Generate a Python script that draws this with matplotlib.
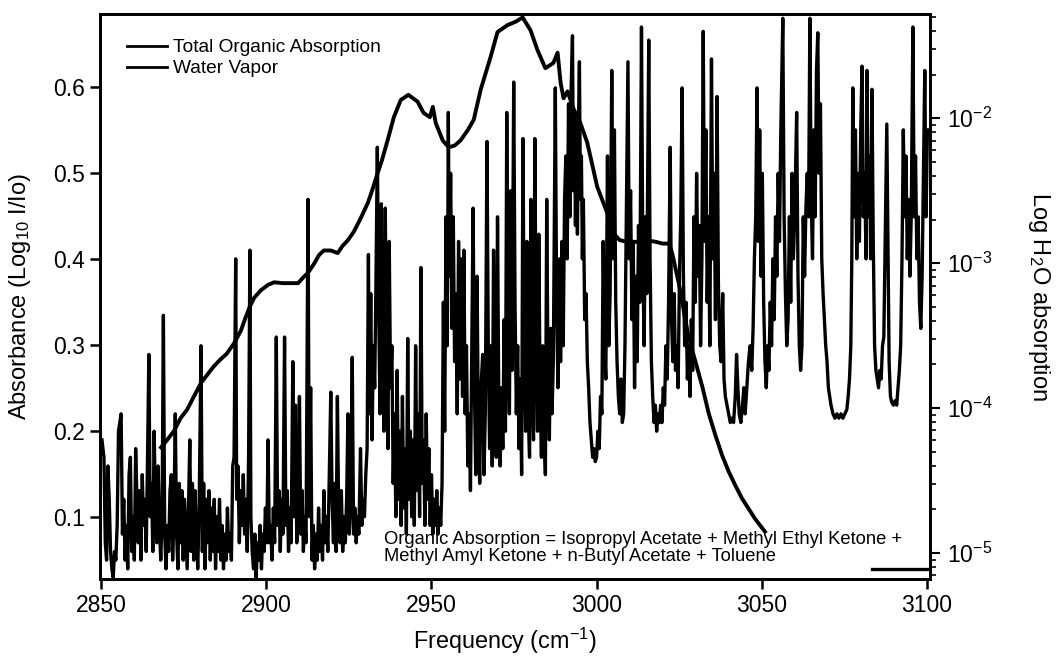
import matplotlib
matplotlib.use('Agg')
import numpy as np
import matplotlib.pyplot as plt
from matplotlib.lines import Line2D

plt.rcParams['font.family'] = ['Liberation Sans', 'DejaVu Sans']
plt.rcParams['mathtext.fontset'] = 'custom'
plt.rcParams['mathtext.rm'] = 'Liberation Sans'
plt.rcParams['mathtext.it'] = 'Liberation Sans:italic'
plt.rcParams['mathtext.bf'] = 'Liberation Sans:bold'

# total organic absorption (left axis, absorbance)
org_freq = [2868.1, 2870, 2872, 2874, 2876, 2878, 2880.2, 2882, 2884, 2886,
            2888, 2890.2, 2892.3, 2893.5, 2895, 2896.3, 2898.4, 2900.5, 2902.3, 2905,
            2907, 2909.6, 2911, 2912.6, 2914.5, 2916, 2917.4, 2919.5, 2921.6, 2923,
            2924.7, 2926.5, 2928.5, 2930.7, 2932.3, 2933.7, 2935, 2936.7, 2938.6, 2940.7,
            2943, 2945.8, 2947.6, 2949.5, 2950.4, 2951.3, 2953.4, 2955.2, 2957, 2958.8,
            2961, 2962.8, 2964.9, 2967.9, 2970, 2973, 2975.5, 2977.6, 2980, 2982.1,
            2984.5, 2986.9, 2988.2, 2989.1, 2990, 2991.2, 2993, 2995.1, 2997.2, 3000.2,
            3003.3, 3005.1, 3007, 3009.3, 3012, 3015, 3018, 3020, 3022, 3023,
            3025, 3027.8, 3030, 3032, 3034, 3036, 3038, 3040, 3042, 3044,
            3046, 3048, 3051]
org_abs = [0.181, 0.19, 0.20, 0.215, 0.225, 0.24, 0.256, 0.265, 0.275, 0.283,
           0.29, 0.302, 0.317, 0.33, 0.345, 0.355, 0.364, 0.37, 0.373, 0.372,
           0.372, 0.372, 0.378, 0.384, 0.395, 0.405, 0.41, 0.41, 0.407, 0.415,
           0.422, 0.432, 0.447, 0.465, 0.483, 0.50, 0.515, 0.538, 0.565, 0.585,
           0.591, 0.583, 0.57, 0.565, 0.577, 0.558, 0.538, 0.53, 0.532, 0.538,
           0.55, 0.562, 0.597, 0.635, 0.664, 0.672, 0.676, 0.681, 0.666, 0.643,
           0.622, 0.628, 0.64, 0.605, 0.587, 0.595, 0.575, 0.558, 0.535, 0.484,
           0.453, 0.43, 0.422, 0.42, 0.42, 0.422, 0.42, 0.418, 0.418, 0.405,
           0.37, 0.31, 0.28, 0.252, 0.22, 0.195, 0.172, 0.153, 0.137, 0.122,
           0.11, 0.098, 0.083]
tail_freq = [3083.5, 3101]
tail_abs = [0.040, 0.040]

# water vapor (right axis), log10 of absorption
h2o_freq = [
    2850.2, 2850.8, 2851.2, 2851.6, 2852.0, 2852.4, 2852.8, 2853.2, 2853.6, 2854.0,
    2854.4, 2854.8, 2855.2, 2855.6, 2856.0, 2856.4, 2856.8, 2857.2, 2857.6, 2858.0,
    2858.4, 2858.8, 2859.2, 2859.6, 2860.0, 2860.4, 2860.8, 2861.2, 2861.6, 2862.0,
    2862.4, 2862.8, 2863.2, 2863.6, 2864.0, 2864.4, 2864.8, 2865.2, 2865.6, 2866.0,
    2866.4, 2866.8, 2867.2, 2867.6, 2868.0, 2868.4, 2868.8, 2869.2, 2869.6, 2870.0,
    2870.4, 2870.8, 2871.2, 2871.6, 2872.0, 2872.4, 2872.8, 2873.2, 2873.6, 2874.0,
    2874.4, 2874.8, 2875.2, 2875.6, 2876.0, 2876.4, 2876.8, 2877.2, 2877.6, 2878.0,
    2878.4, 2878.8, 2879.2, 2879.6, 2880.2, 2880.6, 2881.0, 2881.4, 2881.8, 2882.2,
    2882.6, 2883.0, 2883.4, 2883.8, 2884.2, 2884.6, 2885.0, 2885.4, 2885.8, 2886.2,
    2886.6, 2887.0, 2887.4, 2887.8, 2888.2, 2888.6, 2889.0, 2889.4, 2889.8, 2890.2,
    2890.7, 2891.0,
    2891.4, 2891.8, 2892.2, 2892.6, 2893.0, 2893.4, 2893.8, 2894.2, 2894.6, 2895.0,
    2895.3, 2895.7, 2896.1, 2896.5, 2896.9, 2897.3, 2897.7, 2898.1, 2898.5, 2898.9,
    2899.3, 2899.7, 2900.1, 2900.5, 2900.9, 2901.3, 2901.7, 2902.1, 2902.5, 2903.0,
    2903.4, 2903.8, 2904.2, 2904.6, 2905.0, 2905.5, 2905.9, 2906.3, 2906.7, 2907.1,
    2907.5, 2908.0, 2908.4, 2908.8, 2909.2, 2909.6, 2910.0, 2910.4, 2910.8, 2911.2,
    2911.6, 2912.0, 2912.6, 2913.0, 2913.4, 2913.8, 2914.2, 2914.6, 2915.0, 2915.4,
    2915.8, 2916.2, 2916.6, 2917.0, 2917.4, 2917.8, 2918.2, 2918.6, 2919.0, 2919.5,
    2919.9, 2920.3, 2920.7, 2921.1, 2921.5, 2921.9, 2922.3, 2922.7, 2923.1, 2923.5,
    2923.9, 2924.3, 2924.7, 2925.1, 2925.5, 2926.0, 2926.4, 2926.8, 2927.2, 2927.6,
    2928.0, 2928.5, 2928.9, 2929.3, 2929.7, 2930.1,
    2930.5, 2930.9, 2931.2, 2931.6, 2932.0, 2932.4, 2932.8, 2933.2, 2933.6, 2934.0,
    2934.4, 2934.8, 2935.2, 2935.6, 2936.0, 2936.4, 2936.8, 2937.2, 2937.6, 2938.0,
    2938.4, 2938.8, 2939.2, 2939.6, 2940.0, 2940.4, 2940.8, 2941.2, 2941.6, 2942.0,
    2942.4, 2942.8, 2943.2, 2943.6, 2944.0, 2944.4, 2944.8, 2945.2, 2945.6, 2946.0,
    2946.4, 2946.8, 2947.2, 2947.6, 2948.0, 2948.4, 2948.8, 2949.2, 2949.6, 2950.0,
    2950.4, 2950.8, 2951.2, 2951.6, 2952.0, 2952.4, 2952.8, 2953.2, 2953.6, 2954.0,
    2954.4, 2954.8, 2955.1, 2955.4, 2955.8, 2956.2, 2956.6, 2957.0, 2957.4, 2957.8,
    2958.2, 2958.6, 2959.0, 2959.4, 2959.8, 2960.2, 2960.6, 2961.0,
    2961.4, 2961.8, 2962.2, 2962.6, 2963.0, 2963.4, 2963.8, 2964.2, 2964.6, 2965.0,
    2965.5, 2965.9, 2966.3, 2966.8, 2967.2, 2967.6, 2968.0, 2968.4, 2968.8, 2969.2,
    2969.6, 2970.0, 2970.4, 2970.8, 2971.2, 2971.6, 2972.0, 2972.4, 2972.8, 2973.2,
    2973.6, 2974.0, 2974.4, 2974.9, 2975.3, 2975.7, 2976.1, 2976.5, 2976.9, 2977.3,
    2977.7, 2978.1, 2978.5, 2978.9, 2979.3, 2979.7, 2980.1, 2980.5, 2980.9, 2981.3,
    2981.7, 2982.1, 2982.5, 2982.9, 2983.3, 2983.7, 2984.1, 2984.5, 2984.9, 2985.3,
    2985.7, 2986.1, 2986.5, 2986.9, 2987.5, 2987.9, 2988.3, 2988.7, 2989.1, 2989.5,
    2989.9, 2990.3,
    2990.7, 2991.1, 2991.5, 2991.9, 2992.3, 2992.7, 2993.0, 2993.3, 2993.6, 2993.9,
    2994.2, 2994.5, 2994.8, 2995.1, 2995.4, 2995.7, 2996.0, 2996.4, 2996.8, 2997.2,
    2997.6, 2998.0, 2998.4, 2998.8, 2999.2, 2999.6, 3000.0, 3000.4, 3000.8, 3001.2,
    3001.6, 3002.0, 3002.4, 3002.8, 3003.3, 3003.7, 3004.1, 3004.6, 3005.0, 3005.4,
    3005.8, 3006.2, 3006.6, 3007.0, 3007.4, 3007.8, 3008.2, 3008.6, 3009.0, 3009.5,
    3009.9, 3010.3, 3010.7, 3011.1, 3011.5, 3011.9, 3012.3, 3012.7, 3013.1, 3013.6,
    3014.0, 3014.4, 3014.8, 3015.2, 3015.8, 3016.2, 3016.6, 3017.0, 3017.4, 3017.8,
    3018.2, 3018.6, 3019.0, 3019.4, 3019.8,
    3020.2, 3020.6, 3021.0, 3021.4, 3021.8, 3022.3, 3022.7, 3023.1, 3023.5, 3023.9,
    3024.3, 3024.7, 3025.1, 3025.5, 3025.9, 3026.3, 3026.7, 3027.1, 3027.5, 3027.9,
    3028.3, 3028.7, 3029.1, 3029.5, 3029.9, 3030.3, 3030.7, 3031.1, 3031.5, 3031.9,
    3032.3, 3032.7, 3033.1, 3033.5, 3033.9, 3034.3, 3034.8, 3035.2, 3035.6, 3036.0,
    3036.5, 3036.9, 3037.3, 3037.7, 3038.2, 3038.6, 3039.0, 3039.5, 3040.0, 3040.5,
    3041.0, 3041.5, 3042.0, 3042.4, 3042.8, 3043.2, 3043.7, 3044.2, 3044.6, 3045.0,
    3045.5, 3046.0, 3046.5, 3047.0, 3047.4, 3047.8, 3048.2, 3048.6, 3049.0, 3049.4,
    3049.8, 3050.2, 3050.6,
    3051.0, 3051.4, 3051.8, 3052.2, 3052.6, 3053.0, 3053.4, 3053.8, 3054.2, 3054.6,
    3055.0, 3055.4, 3055.8, 3056.4, 3056.8, 3057.2, 3057.6, 3058.0, 3058.4, 3058.8,
    3059.2, 3059.6, 3060.0, 3060.6, 3061.0, 3061.4, 3061.8, 3062.2, 3062.6, 3063.0,
    3063.4, 3063.8, 3064.2, 3064.6, 3065.0, 3065.4, 3065.8, 3066.2, 3066.6, 3067.0,
    3067.4, 3067.8, 3068.2, 3068.6, 3069.0, 3069.4, 3069.8, 3070.2,
    3070.6, 3071.0, 3071.6, 3072.2, 3072.8, 3073.4, 3074.0, 3074.6, 3075.2, 3075.8,
    3076.2, 3076.6, 3077.0, 3077.3, 3077.6, 3078.0, 3078.4, 3078.8, 3079.2, 3079.6,
    3080.0, 3080.4, 3080.8, 3081.2, 3081.6, 3081.9, 3082.3, 3082.7, 3083.0, 3083.4,
    3083.8, 3084.2, 3084.6, 3085.0, 3085.4, 3085.8, 3086.2, 3086.6, 3087.0, 3087.5,
    3087.9, 3088.3, 3088.6, 3089.0, 3089.4, 3089.9, 3090.4, 3090.9, 3091.3, 3091.7,
    3092.1, 3092.5, 3092.9, 3093.3, 3093.7, 3094.1, 3094.5, 3094.9, 3095.3, 3095.8,
    3096.2, 3096.6, 3097.0, 3097.4, 3097.8, 3098.2, 3098.6, 3099.0, 3099.4, 3099.8,
    3100.2,
]
h2o_log = [
    -4.22, -4.34, -4.93, -5.05, -4.40, -4.63, -4.99, -5.11, -5.17, -4.99,
    -5.05, -4.81, -4.16, -4.10, -4.04, -4.87, -4.63, -5.05, -4.81, -5.11,
    -4.46, -4.34, -4.99, -4.75, -5.05, -4.28, -4.63, -4.93, -4.57, -5.05,
    -4.46, -4.81, -4.63, -4.99, -4.34, -3.63, -4.75, -4.52, -4.99, -4.16,
    -4.69, -4.93, -4.40, -4.81, -5.05, -4.75, -3.36, -4.87, -5.11, -4.81,
    -4.99, -4.57, -4.46, -5.05, -4.75, -4.04, -4.87, -5.11, -4.52, -4.93,
    -4.57, -5.05, -4.63, -4.87, -5.11, -4.69, -4.22, -4.99, -4.52, -5.05,
    -4.57, -4.87, -5.11, -4.75, -3.57, -4.99, -4.52, -5.11, -4.63, -4.93,
    -4.57, -5.05, -4.69, -4.99, -4.63, -5.11, -4.75, -4.99, -4.63, -5.05,
    -4.81, -5.11, -4.87, -5.05, -4.69, -4.99, -4.87, -5.05, -4.40, -4.34,
    -2.97, -4.63,
    -4.40, -4.93, -4.57, -4.81, -4.46, -4.87, -4.63, -4.99, -4.34, -2.91,
    -4.75, -4.99, -5.11, -4.87, -5.17, -4.93, -5.05, -4.81, -5.11, -4.87,
    -4.99, -4.69, -4.93, -4.22, -4.93, -4.81, -5.05, -4.69, -4.93, -3.51,
    -4.81, -4.57, -4.99, -4.63, -4.87, -3.51, -4.81, -4.57, -4.99, -4.69,
    -4.93, -3.68, -4.75, -3.98, -4.93, -4.63, -3.92, -4.87, -4.57, -4.99,
    -4.75, -4.93, -2.56, -4.75, -3.86, -5.05, -4.81, -5.11, -4.87, -5.05,
    -4.69, -4.99, -4.81, -5.05, -4.57, -4.93, -4.75, -4.99, -4.52, -3.89,
    -4.63, -4.93, -4.52, -4.99, -3.92, -4.75, -4.93, -4.57, -4.99, -4.75,
    -4.93, -4.63, -4.04, -4.87, -4.69, -3.65, -4.87, -4.69, -4.93, -4.75,
    -4.87, -4.28, -4.81, -4.63, -4.75, -4.46,
    -4.28, -2.94, -4.04, -3.21, -4.22, -3.57, -3.86, -3.09, -2.20, -3.27,
    -4.04, -2.59, -3.68, -4.16, -2.62, -3.57, -4.28, -2.85, -3.86, -3.57,
    -4.52, -4.04, -4.75, -3.74, -4.63, -4.16, -4.81, -3.92, -4.69, -4.28,
    -4.87, -3.52, -4.63, -4.16, -4.75, -4.22, -4.81, -3.57, -4.57, -4.04,
    -4.75, -3.03, -4.52, -4.22, -4.81, -4.04, -4.63, -4.28, -4.81, -4.46,
    -4.87, -4.63, -4.81, -4.57, -4.87, -4.69, -4.81, -4.52, -3.27, -4.16,
    -2.68, -3.57, -1.96, -3.09, -2.38, -3.45, -2.68, -3.68, -3.21, -4.04,
    -2.85, -3.80, -2.97, -3.92, -2.91, -4.04, -3.57, -4.40,
    -4.04, -4.57, -3.57, -2.62, -3.86, -4.46, -3.09, -4.16, -4.52, -3.86,
    -3.63, -4.46, -4.04, -2.16, -3.57, -4.28, -3.57, -4.40, -2.91, -3.92,
    -4.34, -2.68, -4.04, -4.40, -3.86, -4.28, -3.39, -4.16, -1.96, -3.57,
    -4.04, -2.50, -3.74, -1.75, -3.27, -4.04, -3.57, -4.28, -3.80, -4.46,
    -2.14, -3.57, -4.16, -2.85, -4.04, -4.34, -2.56, -3.86, -4.22, -2.14,
    -3.57, -4.16, -2.80, -3.92, -4.34, -3.57, -4.16, -4.46, -2.56, -3.80,
    -4.22, -3.45, -4.04, -3.68, -1.79, -3.27, -3.86, -2.97, -3.68, -2.85,
    -3.57, -2.56,
    -2.26, -2.97, -1.90, -2.68, -1.79, -1.43, -2.50, -1.96, -2.74, -2.02,
    -2.80, -2.08, -1.61, -2.56, -2.26, -2.97, -2.56, -3.39, -3.21, -3.68,
    -3.86, -4.10, -4.22, -4.34, -4.28, -4.37, -4.34, -4.16, -4.28, -3.92,
    -4.04, -2.85, -3.57, -3.80, -2.26, -3.57, -3.21, -1.67, -2.97, -2.08,
    -3.27, -3.68, -3.92, -4.04, -3.80, -4.10, -4.04, -3.57, -2.68, -1.61,
    -2.97, -2.50, -3.39, -2.85, -3.86, -3.09, -3.68, -2.74, -3.27, -1.37,
    -2.97, -3.57, -2.68, -3.21, -1.46, -2.97, -3.68, -3.92, -4.10, -3.98,
    -4.16, -4.04, -4.10, -3.98, -4.10,
    -3.86, -3.98, -3.57, -3.80, -3.27, -2.20, -3.39, -3.68, -3.21, -3.74,
    -3.57, -3.86, -3.09, -2.68, -1.79, -3.09, -3.57, -3.27, -3.80, -3.57,
    -3.92, -3.39, -3.74, -2.68, -3.27, -2.38, -3.09, -2.74, -3.57, -2.97,
    -1.40, -2.85, -2.08, -3.27, -2.68, -3.57, -1.59, -2.97, -2.38, -3.39,
    -1.85, -3.15, -3.57, -3.68, -3.21, -3.80, -3.92, -3.98, -4.04, -4.10,
    -4.07, -4.10, -3.92, -3.63, -3.86, -4.04, -4.10, -3.98, -3.86, -4.04,
    -3.86, -3.68, -3.57, -3.74, -3.45, -2.97, -2.68, -1.79, -2.85, -2.08,
    -3.09, -2.38, -3.27,
    -3.68, -3.86, -3.57, -3.74, -3.27, -3.57, -2.97, -3.39, -2.68, -3.09,
    -2.38, -2.85, -2.08, -1.31, -2.68, -3.21, -3.57, -3.39, -2.68, -3.27,
    -2.38, -2.97, -2.68, -1.96, -3.09, -3.57, -3.74, -3.57, -2.68, -3.09,
    -2.62, -2.38, -2.68, -1.31, -2.56, -2.97, -2.08, -2.68, -1.67, -1.41,
    -2.38, -1.90, -2.97, -3.21, -3.39, -3.57, -3.68, -3.86,
    -3.92, -3.98, -4.04, -4.07, -4.04, -4.07, -4.04, -4.07, -4.04, -4.01,
    -3.92, -3.80, -3.57, -2.97, -1.79, -2.68, -2.08, -2.97, -2.38, -2.85,
    -2.08, -1.64, -2.68, -2.38, -2.97, -1.67, -2.68, -2.26, -2.97, -1.80,
    -2.85, -3.57, -3.74, -3.80, -3.86, -3.74, -3.80, -3.57, -3.51, -2.68,
    -2.04, -2.97, -3.68, -3.92, -3.96, -3.98, -3.95, -3.98, -3.86, -3.74,
    -3.57, -2.97, -2.08, -2.68, -2.26, -2.97, -2.56, -3.09, -2.68, -1.37,
    -2.68, -2.26, -2.97, -2.68, -3.27, -3.45, -3.09, -2.38, -1.67, -2.68,
    -2.08,
]
assert len(h2o_freq) == len(h2o_log)

fig = plt.figure(figsize=(10.57, 6.59), dpi=100)
ax = fig.add_axes([0.0946, 0.1214, 0.7853, 0.8574])
ax2 = ax.twinx()

ax2.plot(h2o_freq, 10 ** np.array(h2o_log), color='black', lw=2.4)
ax2.set_yscale('log')
ax2.set_ylim(10 ** -5.18, 10 ** -1.28)

ax.plot(org_freq, org_abs, color='black', lw=2.8)
ax.plot(tail_freq, tail_abs, color='black', lw=2.4)

ax.set_xlim(2849.6, 3101)
ax.set_ylim(0.028, 0.685)
ax.set_xticks([2850, 2900, 2950, 3000, 3050, 3100])
ax.set_yticks([0.1, 0.2, 0.3, 0.4, 0.5, 0.6])
ax.set_yticklabels(['0.1', '0.2', '0.3', '0.4', '0.5', '0.6'])

ax.tick_params(direction='out', length=7, width=1.8, labelsize=16.5, pad=4)
ax2.tick_params(which='major', direction='out', length=7, width=1.5, labelsize=16.5, pad=5)
ax2.tick_params(which='minor', direction='out', length=4, width=1.2)
for a in (ax, ax2):
    for s in a.spines.values():
        s.set_linewidth(2.0)

ax.set_xlabel('Frequency (cm$^{-1}$)', fontsize=16.8)
ax.xaxis.set_label_coords(0.488, -0.082)
ax.set_ylabel('Absorbance (Log$_{10}$ I/Io)', fontsize=17)
ax.yaxis.set_label_coords(-0.081, 0.5)
ax2.set_ylabel('Log H$_2$O absorption', fontsize=17, rotation=270, va='bottom')
ax2.yaxis.set_label_coords(1.115, 0.5)

handles = [Line2D([], [], color='black', lw=2), Line2D([], [], color='black', lw=2)]
ax2.legend(handles, ['Total Organic Absorption', 'Water Vapor'], loc='upper left',
           bbox_to_anchor=(0.0325, 0.956), frameon=False, fontsize=13.8,
           handlelength=2.1, handletextpad=0.3, labelspacing=0.2,
           borderpad=0, borderaxespad=0)

ax2.text(2935.6, 10 ** -4.85, 'Organic Absorption = Isopropyl Acetate + Methyl Ethyl Ketone +\n'
         'Methyl Amyl Ketone + n-Butyl Acetate + Toluene',
         fontsize=13.2, ha='left', va='top', linespacing=0.95)

fig.savefig('out.png', dpi=100)
